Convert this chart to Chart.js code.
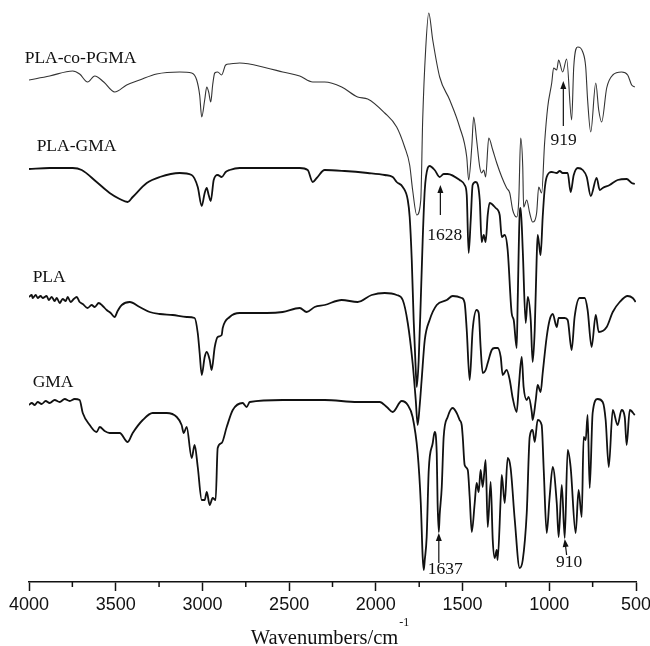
<!DOCTYPE html>
<html>
<head>
<meta charset="utf-8">
<script src="https://cdn.jsdelivr.net/npm/chart.js"></script>
<style>
  html, body { margin: 0; padding: 0; background: #fff; }
  canvas { display: block; }
</style>
</head>
<body>
<canvas id="grafico" width="650" height="646"></canvas>
<script>
// Espectros FTIR (transmitancia desplazada, unidades arbitrarias)
const wnPLAcoPGMA = [4000,3881,3748,3708,3662,3621,3569,3506,3437,3362,3264,3131,3062,3033,3016,3004,2987,2975,2964,2952,2941,2929,2912,2889,2866,2843,2785,2629,2537,2439,2364,2295,2197,2105,2047,1949,1880,1834,1805,1788,1764,1741,1730,1713,1695,1672,1632,1574,1517,1476,1465,1447,1436,1419,1401,1390,1378,1367,1349,1326,1303,1274,1246,1228,1211,1188,1176,1165,1153,1148,1130,1113,1096,1073,1061,1044,1027,1009,986,975,957,946,923,900,871,859,836,807,790,779,761,732,715,698,669,634,583,548,525,507];
const tPLAcoPGMA = [502,506,511,508,500,506,500,490,497,502,508,510,509,502,487,465,482,495,490,480,497,509,510,507,517,518,519,514,510,506,500,500,495,485,483,469,455,435,417,392,367,382,462,532,569,542,505,482,455,425,402,435,465,442,415,409,412,405,444,432,419,405,394,389,372,365,382,444,415,375,382,369,360,369,395,389,439,475,499,514,512,522,510,523,462,515,535,530,515,482,450,499,472,460,494,507,510,507,497,495];

const wnPLAGMA = [4000,3881,3748,3696,3610,3535,3477,3431,3402,3321,3246,3131,3062,3027,3004,2987,2975,2964,2952,2935,2912,2889,2866,2843,2785,2629,2439,2393,2364,2341,2295,2180,2047,1949,1903,1880,1845,1816,1805,1793,1782,1770,1764,1753,1741,1730,1718,1701,1690,1661,1632,1609,1586,1517,1488,1476,1465,1453,1442,1424,1401,1390,1378,1367,1355,1344,1309,1286,1274,1257,1240,1217,1205,1188,1182,1171,1165,1153,1136,1124,1107,1096,1084,1073,1067,1055,1050,1038,1027,1015,986,957,940,923,894,877,859,836,807,784,761,727,709,692,652,606,554,525,507];
const tPLAGMA = [413,414,414,412,400,389,383,380,385,399,405,409,407,395,376,389,394,387,381,402,407,405,410,412,414,414,414,412,400,404,412,411,409,407,405,400,395,382,365,322,262,212,195,222,282,342,392,414,416,412,405,408,408,402,397,387,329,362,397,400,382,340,347,340,367,379,374,367,345,347,332,269,262,234,282,367,374,332,259,285,262,220,252,322,347,332,327,365,392,405,410,409,411,409,409,390,407,414,412,405,386,404,392,394,397,402,403,399,398];

const wnPLA = [4000,3984,3979,3961,3950,3933,3921,3898,3886,3869,3852,3840,3823,3806,3788,3777,3760,3742,3725,3708,3690,3662,3639,3621,3598,3575,3552,3529,3506,3489,3465,3419,3362,3304,3246,3171,3091,3045,3027,3016,3004,2987,2975,2958,2947,2929,2912,2889,2883,2843,2785,2629,2537,2439,2399,2353,2295,2197,2105,2024,1949,1880,1845,1816,1788,1770,1759,1747,1736,1718,1690,1649,1591,1557,1505,1488,1476,1459,1442,1419,1407,1396,1384,1367,1355,1332,1315,1298,1280,1269,1246,1228,1211,1188,1176,1159,1148,1130,1119,1101,1096,1078,1067,1050,1038,1015,998,980,957,946,911,894,871,854,825,796,779,756,732,715,669,634,594,548,519,502];
const tPLA = [285,287,284,287,284,286,284,286,282,285,281,284,279,283,281,285,280,283,285,280,278,274,277,275,279,276,272,269,265,271,277,280,275,270,268,267,265,264,249,229,207,225,230,222,212,235,245,247,254,265,269,269,270,274,270,275,277,282,280,287,289,287,282,259,219,182,157,177,202,242,262,277,282,286,284,279,252,202,252,272,269,235,209,212,219,232,234,234,225,207,212,202,184,170,195,225,195,182,185,170,162,182,197,190,209,245,262,268,255,264,264,262,232,265,284,284,272,235,267,250,255,270,280,286,284,280];

const wnGMA = [4000,3984,3967,3950,3927,3904,3881,3852,3823,3794,3765,3737,3708,3690,3650,3610,3592,3564,3535,3477,3431,3402,3344,3287,3206,3148,3120,3108,3091,3062,3045,3027,3004,2987,2975,2958,2941,2924,2912,2889,2860,2825,2768,2745,2727,2537,2295,2105,1978,1937,1903,1851,1816,1788,1759,1741,1730,1724,1718,1707,1695,1672,1661,1649,1644,1637,1632,1620,1609,1586,1557,1534,1517,1505,1499,1488,1470,1459,1447,1430,1419,1407,1396,1384,1367,1355,1338,1326,1315,1303,1298,1280,1274,1257,1240,1223,1199,1171,1153,1130,1113,1096,1084,1067,1044,1032,1015,998,980,957,946,928,911,894,877,848,831,813,802,790,779,767,750,721,692,675,657,634,606,583,565,554,536,507];
const tGMA = [177,179,177,180,178,181,179,182,180,183,181,183,182,169,157,150,155,151,149,149,140,149,162,169,169,165,157,149,155,124,137,115,82,82,90,77,84,82,134,139,155,172,179,175,180,182,182,180,180,175,170,181,177,165,129,79,25,12,22,45,112,139,150,129,79,50,67,95,145,165,174,169,162,157,145,117,112,85,50,79,99,90,112,95,122,55,100,42,24,32,22,85,107,79,124,114,62,14,22,69,145,152,140,162,157,112,49,85,115,79,45,97,44,132,115,49,92,65,145,142,167,94,169,183,180,162,115,172,157,172,165,137,172,167];

// Etiquetas de cada curva (posición en número de onda / transmitancia)
const etiquetas = [
    {texto: "PLA-co-PGMA", wn: 4025, t: 519},
    {texto: "PLA-GMA", wn: 3956, t: 431},
    {texto: "PLA", wn: 3979, t: 300},
    {texto: "GMA", wn: 3979, t: 195}
];

// Bandas señaladas con flecha
const bandas = [
    {texto: "919", wn: 919, desde: 456, hasta: 501, wnTexto: 917, tTexto: 437},
    {texto: "1628", wn: 1628, desde: 367, hasta: 397, wnTexto: 1603, tTexto: 342},
    {texto: "1637", wn: 1637, desde: 19, hasta: 49, wnTexto: 1600, tTexto: 8},
    {texto: "910", wn: 900, wnPunta: 911, desde: 27, hasta: 43, wnTexto: 885, tTexto: 15}
];

const ticksMenores = [3750, 3250, 2750, 2250, 1750, 1250, 750];

const pares = (wn, t) => wn.map((w, i) => ({x: w, y: t[i]}));
const serif = '"Liberation Serif", "Times New Roman", serif';

function flecha(ctx, x1, y1, x2, y2) {
    const ang = Math.atan2(y2 - y1, x2 - x1);
    const largo = 8, ancho = 3;
    ctx.beginPath();
    ctx.moveTo(x1, y1);
    ctx.lineTo(x2 - Math.cos(ang) * largo * 0.8, y2 - Math.sin(ang) * largo * 0.8);
    ctx.stroke();
    ctx.beginPath();
    ctx.moveTo(x2, y2);
    ctx.lineTo(x2 - Math.cos(ang) * largo - Math.sin(ang) * ancho, y2 - Math.sin(ang) * largo + Math.cos(ang) * ancho);
    ctx.lineTo(x2 - Math.cos(ang) * largo + Math.sin(ang) * ancho, y2 - Math.sin(ang) * largo - Math.cos(ang) * ancho);
    ctx.closePath();
    ctx.fill();
}

const textos = {
    id: "textos",
    afterDraw(chart) {
        const {ctx, chartArea, scales: {x, y}} = chart;
        ctx.save();
        ctx.fillStyle = "#111";
        ctx.strokeStyle = "#111";

        // ticks menores
        ctx.lineWidth = 1.5;
        ticksMenores.forEach(v => {
            const px = x.getPixelForValue(v);
            ctx.beginPath();
            ctx.moveTo(px, chartArea.bottom);
            ctx.lineTo(px, chartArea.bottom + 5);
            ctx.stroke();
        });

        // nombres de las curvas
        ctx.font = `17.5px ${serif}`;
        ctx.textAlign = "left";
        ctx.textBaseline = "alphabetic";
        etiquetas.forEach(e => ctx.fillText(e.texto, x.getPixelForValue(e.wn), y.getPixelForValue(e.t)));

        // bandas con flecha
        ctx.lineWidth = 1.2;
        bandas.forEach(b => {
            const xa = x.getPixelForValue(b.wn);
            const xb = x.getPixelForValue(b.wnPunta || b.wn);
            flecha(ctx, xa, y.getPixelForValue(b.desde), xb, y.getPixelForValue(b.hasta));
            ctx.textAlign = "center";
            ctx.fillText(b.texto, x.getPixelForValue(b.wnTexto), y.getPixelForValue(b.tTexto));
        });

        // título del eje con superíndice
        const principal = "Wavenumbers/cm";
        const sup = "-1";
        ctx.font = `20.5px ${serif}`;
        const w1 = ctx.measureText(principal).width;
        ctx.font = `12px ${serif}`;
        const w2 = ctx.measureText(sup).width;
        const x0 = (chartArea.left + chartArea.right) / 2 - 3 - (w1 + w2) / 2;
        ctx.textAlign = "left";
        ctx.font = `20.5px ${serif}`;
        ctx.fillText(principal, x0, 644);
        ctx.font = `12px ${serif}`;
        ctx.fillText(sup, x0 + w1 + 1, 626);
        ctx.restore();
    }
};

const linea = (datos, ancho, color) => ({
    data: datos,
    borderColor: color,
    borderWidth: ancho,
    pointRadius: 0,
    cubicInterpolationMode: "monotone",
    fill: false
});

new Chart(document.getElementById("grafico"), {
    type: "line",
    data: {
        datasets: [
            linea(pares(wnPLAcoPGMA, tPLAcoPGMA), 1.1, "#333"),
            linea(pares(wnPLAGMA, tPLAGMA), 1.8, "#111"),
            linea(pares(wnPLA, tPLA), 1.8, "#111"),
            linea(pares(wnGMA, tGMA), 1.8, "#111")
        ]
    },
    options: {
        responsive: false,
        animation: false,
        layout: {padding: {left: 29, right: 14, top: 0, bottom: 0}},
        plugins: {legend: {display: false}, tooltip: {enabled: false}},
        scales: {
            x: {
                type: "linear",
                reverse: true,
                min: 500,
                max: 4000,
                afterFit: scale => {
                    scale.height = 64;
                    scale.paddingLeft = 0;
                    scale.paddingRight = 0;
                },
                border: {display: true, color: "#111", width: 1.5},
                grid: {drawOnChartArea: false, drawTicks: true, tickLength: 9, tickWidth: 1.5, tickColor: "#111"},
                ticks: {
                    stepSize: 500,
                    autoSkip: false,
                    maxRotation: 0,
                    padding: 3,
                    color: "#111",
                    font: {family: '"Liberation Sans", Arial, sans-serif', size: 18},
                    callback: v => String(v)
                }
            },
            y: {
                type: "linear",
                display: false,
                min: 0,
                max: 582
            }
        }
    },
    plugins: [textos]
});
</script>
</body>
</html>
